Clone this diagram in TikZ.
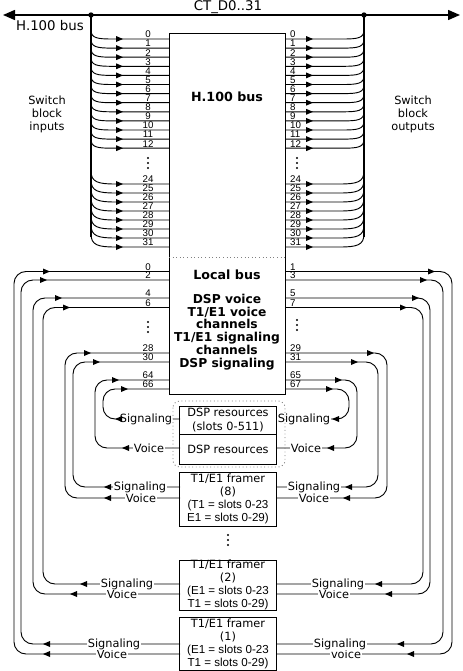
\documentclass[tikz,border=0pt]{standalone}
\usepackage{fontspec}
\setmainfont{DejaVu Sans}
\newfontfamily\numfont{Liberation Sans}
\usetikzlibrary{arrows.meta}
\newcommand\slotfont{\numfont\fontsize{8.7}{9.75}\selectfont}
\tikzset{
  pics/tipR/.style={code={\fill (0,0) -- (-7,-3) -- (-7,3) -- cycle;}},
  pics/tipL/.style={code={\fill (0,0) -- (7,-3) -- (7,3) -- cycle;}},
  pics/vdot/.style={code={\foreach \d in {-5,0,5} \fill (0,\d) circle (1.1);}},
  lab/.style={fill=white,inner sep=0.6pt,font=\fontsize{8.5}{10}\selectfont},
  num/.style={inner sep=0.5pt,font=\numfont\fontsize{7.3}{7.5}\selectfont},
  wire/.style={line width=0.7pt,rounded corners=9pt},
  unit/.style={draw,line width=0.7pt,align=center,minimum width=72.75pt,inner sep=0pt,font=\fontsize{8.5}{9.75}\selectfont},
}
\begin{document}
\begin{tikzpicture}[x=0.75pt,y=-0.75pt,line width=0.7pt]
\useasboundingbox (0,0) rectangle (463,671);

% H.100 bus
\draw[line width=1.1pt,{Triangle[length=9pt,width=7.5pt]}-{Triangle[length=9pt,width=7.5pt]}] (3,15) -- (460,15);
\node[font=\fontsize{10}{12}\selectfont] (busname) at (50,26) {H.100 bus};
\node[font=\fontsize{10}{12}\selectfont] (ctname) at (228,7) {CT\_D0..31};
\draw[line width=1pt] (91,15) -- (91,237);
\draw[line width=1pt] (364,15) -- (364,237);
\node[circle,fill,inner sep=0,minimum size=4pt] (jin) at (91,15) {};
\node[circle,fill,inner sep=0,minimum size=4pt] (jout) at (364,15) {};

\node[align=center,font=\fontsize{8.5}{9.75}\selectfont] (swin) at (47,114) {Switch\\block\\inputs};
\node[align=center,font=\fontsize{8.5}{9.75}\selectfont] (swout) at (413,114) {Switch\\block\\outputs};

% main box
\draw (169,33) rectangle (285,394);
\draw[dotted,gray] (169,257) -- (285,257);
\node[font=\bfseries\fontsize{9.5}{11}\selectfont] (hname) at (227,97) {H.100 bus};
\node[font=\bfseries\fontsize{9.5}{11}\selectfont] (lname) at (227,275) {Local bus};
\node[align=center,font=\bfseries\fontsize{9.2}{9.6}\selectfont] (lmix) at (227,332) {DSP voice\\T1/E1 voice\\channels\\T1/E1 signaling\\channels\\DSP signaling};

% switch block rows
\foreach \n in {0,...,12}{
  \pgfmathsetmacro\yy{39+9.1*\n}
  \draw (91,\yy-9) .. controls (91,\yy-1) and (97,\yy) .. (112,\yy) -- (169,\yy);
  \draw (285,\yy) -- (343,\yy) .. controls (358,\yy) and (364,\yy-1) .. (364,\yy-9);
  \pic at (123,\yy) {tipR};
  \pic at (313,\yy) {tipR};
  \node[num,anchor=south] (si\n) at (148,\yy) {\n};
  \node[num,anchor=south west] (so\n) at (289,\yy) {\n};
}
\foreach \n in {24,...,31}{
  \pgfmathsetmacro\yy{184+9*(\n-24)}
  \draw (91,\yy-13) .. controls (91,\yy-2) and (98,\yy) .. (115,\yy) -- (169,\yy);
  \draw (285,\yy) -- (340,\yy) .. controls (357,\yy) and (364,\yy-2) .. (364,\yy-13);
  \pic at (123,\yy) {tipR};
  \pic at (313,\yy) {tipR};
  \node[num,anchor=south] (si\n) at (148,\yy) {\n};
  \node[num,anchor=south west] (so\n) at (289,\yy) {\n};
}
\pic at (148,163) {vdot};
\pic at (297,163) {vdot};

% DSP resources and framers
\node[unit,minimum height=21pt,font=\fontsize{8.5}{10.5}\selectfont] (dsp1) at (228,420) {DSP resources\\(slots 0-511)};
\node[unit,minimum height=22.5pt] (dsp2) at (228,449) {DSP resources};
\node[unit,minimum height=40.5pt] (fr8) at (228,499) {T1/E1 framer\\(8)\\{\slotfont (T1 = slots 0-23}\\{\slotfont E1 = slots 0-29)}};
\pic at (228,540) {vdot};
\node[unit,minimum height=37.5pt] (fr2) at (228,585) {T1/E1 framer\\(2)\\{\slotfont (E1 = slots 0-23}\\{\slotfont T1 = slots 0-29)}};
\node[unit,minimum height=39.75pt] (fr1) at (228,643.5) {T1/E1 framer\\(1)\\{\slotfont (E1 = slots 0-23}\\{\slotfont T1 = slots 0-29)}};

% local bus, left side
\foreach \nm/\ry/\vx/\rt/\dy/\dt/\txt/\tx in {
  0/271.5/14/50/654/43/Voice/112,
  2/280/21/47/644/43/Signaling/114,
  4/298/33/62/594/70/Voice/122,
  6/307.5/43/70/584/80/Signaling/127,
  28/353/65/91/498/104/Voice/141,
  30/362/73/100/487/104/Signaling/140,
  64/380/95/119/448/122/Voice/149,
  66/389/103/128/419/115/Signaling/146}{
  \draw[wire] (180,\dy) -- (\vx,\dy) -- (\vx,\ry) -- (169,\ry);
  \node[lab] (ll\nm) at (\tx,\dy) {\txt};
  \node[num,anchor=south] (nl\nm) at (148,\ry) {\nm};
  \pic at (\rt,\ry) {tipR};
  \pic at (\dt,\dy) {tipL};
}
\pic at (148,327) {vdot};

% local bus, right side
\foreach \nm/\ry/\vx/\rt/\dy/\dt/\txt/\tx in {
  1/271.5/452/435/654/407/voice/346,
  3/280/443/427/644/397/Signaling/340,
  5/298/430/419/594/385/Voice/334,
  7/307.5/423/407/584/375/Signaling/338,
  29/353/387/374/498/343/Voice/314,
  31/362/378/358/487/345/Signaling/314,
  65/380/357/342/448/327/Voice/306,
  67/389/349/333/419/332/Signaling/304}{
  \draw[wire] (277,\dy) -- (\vx,\dy) -- (\vx,\ry) -- (285,\ry);
  \node[lab] (lr\nm) at (\tx,\dy) {\txt};
  \node[num,anchor=south west] (nr\nm) at (289,\ry) {\nm};
  \pic at (\rt,\ry) {tipR};
  \pic at (\dt,\dy) {tipL};
}
\pic at (297,325) {vdot};

\draw[dotted,gray,rounded corners=5pt] (173,401) rectangle (285,467);

\end{tikzpicture}
\end{document}
